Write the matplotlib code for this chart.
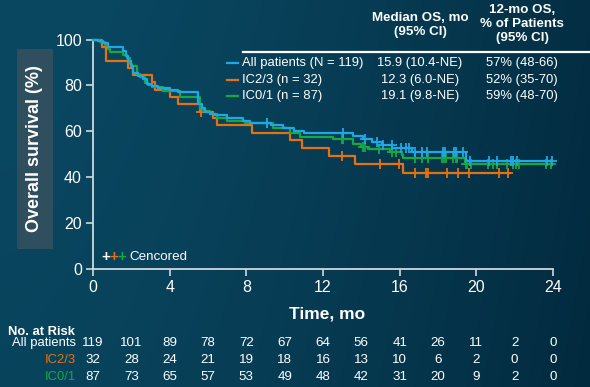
import numpy as np
import matplotlib
matplotlib.use("Agg")
import matplotlib.pyplot as plt
from matplotlib.lines import Line2D
from matplotlib.patches import Rectangle
from matplotlib.transforms import blended_transform_factory

plt.rcParams['font.family'] = ['Liberation Sans', 'DejaVu Sans']

# ---------------- data ----------------
all_t = [0, 0.28, 0.54, 0.8, 1.58, 1.72, 1.84, 1.97, 2.1, 2.36, 2.62, 2.8, 3.06, 3.4, 4.0, 4.45,
         5.5, 5.67, 5.84, 6.1, 6.36, 6.97, 7.84, 8.19, 9.3, 9.9, 10.5, 11.0, 13.58, 14.1, 14.55,
         15.07, 15.6, 16.64, 19.44]
all_s = [100, 99.2, 98.3, 96.6, 95.0, 92.8, 90.6, 88.4, 85.5, 84.1, 82.6, 80.5, 79.7, 79.0, 78.0, 77.1,
         71.8, 70.3, 68.4, 67.6, 67.2, 66.0, 64.5, 63.8, 62.6, 61.5, 60.3, 59.1, 58.1, 56.6, 55.5,
         54.0, 52.6, 50.8, 47.2]
all_end = 23.95
all_cens = [9.1, 13.06, 14.19, 14.8, 15.14, 15.58, 16.07, 16.33, 16.48, 16.8, 17.15, 17.41, 18.24,
            18.36, 18.83, 18.92, 19.32, 19.67, 20.66, 21.06, 21.79, 21.93, 22.1, 23.67, 23.95]

hi_t = [0, 0.45, 0.68, 1.84, 2.1, 3.06, 3.23, 4.02, 4.45, 5.58, 6.28, 6.45, 8.28, 10.28, 10.9,
        12.3, 13.67, 16.15]
hi_s = [100, 96.9, 90.6, 87.5, 84.4, 81.3, 78.1, 75.0, 71.9, 68.5, 65.6, 62.6, 59.1, 56.2, 52.6,
        49.4, 45.8, 41.7]
hi_end = 21.75
hi_cens = [5.65, 12.97, 15.0, 15.96, 16.8, 17.4, 17.5, 18.45, 19.06, 19.6, 21.2, 21.67]

lo_t = [0, 0.37, 0.63, 0.8, 0.9, 1.58, 1.75, 1.93, 2.02, 2.27, 2.45, 2.71, 2.88, 3.06, 3.67, 4.54,
        5.58, 5.75, 6.1, 6.45, 6.97, 7.93, 9.4, 10.28, 10.8, 12.5, 13.58, 14.0, 14.36, 15.5, 16.1,
        16.2, 19.4]
lo_s = [100, 98.9, 97.7, 95.7, 94.5, 93.3, 92.0, 89.5, 88.4, 84.8, 83.8, 81.2, 80.0, 79.4, 77.6, 75.0,
        70.3, 68.8, 67.4, 66.0, 64.5, 63.5, 61.5, 59.4, 57.6, 56.5, 54.5, 53.3, 52.3, 50.8, 49.7,
        48.5, 45.6]
lo_end = 23.95
lo_cens = [9.06, 12.97, 13.06, 14.1, 14.19, 14.93, 15.58, 15.79, 16.8, 17.15, 17.46, 18.19, 18.31,
           18.41, 18.8, 18.94, 19.0, 19.44, 19.53, 19.7, 20.62, 20.85, 21.06, 21.61, 21.89, 22.07,
           22.24, 23.62, 23.88]

group_labels = ["All patients (N = 119)", "IC2/3 (n = 32)", "IC0/1 (n = 87)"]
median_os = ["15.9 (10.4-NE)", "12.3 (6.0-NE)", "19.1 (9.8-NE)"]
os12 = ["57% (48-66)", "52% (35-70)", "59% (48-70)"]

risk_times = [0, 2, 4, 6, 8, 10, 12, 14, 16, 18, 20, 22, 24]
risk_all = [119, 101, 89, 78, 72, 67, 64, 56, 41, 26, 11, 2, 0]
risk_hi = [32, 28, 24, 21, 19, 18, 16, 13, 10, 6, 2, 0, 0]
risk_lo = [87, 73, 65, 57, 53, 49, 48, 42, 31, 20, 9, 2, 0]
risk_labels = ["All patients", "IC2/3", "IC0/1"]

x_ticks = [0, 4, 8, 12, 16, 20, 24]
y_ticks = [0, 20, 40, 60, 80, 100]

BLUE = '#1fa8e6'
ORANGE = '#e8710f'
GREEN = '#17a844'
AX = '#cfd8dd'

W, H = 590, 387
fig = plt.figure(figsize=(W / 100, H / 100), dpi=100)

# background gradient
bg = fig.add_axes([0, 0, 1, 1], zorder=-10)
xs = np.linspace(0, 1, 300)
ys = np.linspace(0, 1, 200)
X, Y = np.meshgrid(xs, ys)
f = np.clip(X, 0, 1) ** 1.6 * 0.85 + Y * 0.15
c0 = np.array([10, 72, 98]) / 255.0
c1 = np.array([2, 42, 62]) / 255.0
img = c0[None, None, :] * (1 - f[..., None]) + c1[None, None, :] * f[..., None]
bg.imshow(img, aspect='auto', extent=[0, 1, 0, 1], origin='upper')
bg.set_axis_off()

def fx(px):
    return px / W

def fy(py):
    return 1 - py / H

ax = fig.add_axes([fx(93), fy(269), fx(553) - fx(93), fy(39.5) - fy(269)])
ax.set_facecolor('none')
ax.set_xlim(0, 24)
ax.set_ylim(0, 100)
for side in ['top', 'right']:
    ax.spines[side].set_visible(False)
for side in ['left', 'bottom']:
    ax.spines[side].set_color(AX)
    ax.spines[side].set_linewidth(1.3)
ax.set_xticks(x_ticks)
ax.set_yticks(y_ticks)
ax.tick_params(colors=AX, labelcolor='white', labelsize=11.5, length=5, width=1.2, pad=3)

def km(ts, ss, end, cens, color, z):
    tt = list(ts) + [end]
    sv = list(ss) + [ss[-1]]
    ax.step(tt, sv, where='post', color=color, lw=1.6, zorder=z, clip_on=False)
    ta = np.array(ts)
    cy = [ss[np.searchsorted(ta, c, side='right') - 1] for c in cens]
    ax.plot(cens, cy, ls='none', marker='+', ms=6.5, mew=1.3, color=color, zorder=z, clip_on=False)

km(hi_t, hi_s, hi_end, hi_cens, ORANGE, 3)
km(lo_t, lo_s, lo_end, lo_cens, GREEN, 4)
km(all_t, all_s, all_end, all_cens, BLUE, 5)

# y label with box
fig.add_artist(Rectangle((fx(17), fy(249)), fx(53) - fx(17), fy(49) - fy(249),
                         transform=fig.transFigure, facecolor='#2f4f5f', edgecolor='none', zorder=-5))
fig.text(fx(35), fy(149), "Overall survival (%)", rotation=90, ha='center', va='center',
         color='white', fontsize=13, fontweight='bold')

fig.text(fx(327), fy(314), "Time, mo", ha='center', va='center', color='white',
         fontsize=12.5, fontweight='bold')

# top table
fig.text(fx(420), fy(25), "Median OS, mo\n(95% CI)", ha='center', va='center', color='white',
         fontsize=9.6, fontweight='bold', linespacing=1.2)
fig.text(fx(522), fy(24), "12-mo OS,\n% of Patients\n(95% CI)", ha='center', va='center',
         color='white', fontsize=9.6, fontweight='bold', linespacing=1.2)
fig.add_artist(Line2D([fx(243), fx(590)], [fy(52), fy(52)], transform=fig.transFigure,
                      color='white', lw=1.6))
row_y = [63, 80, 96]
cols = [BLUE, ORANGE, GREEN]
for i in range(3):
    fig.add_artist(Line2D([fx(227), fx(238)], [fy(row_y[i]), fy(row_y[i])], transform=fig.transFigure,
                          color=cols[i], lw=1.6))
    fig.text(fx(242), fy(row_y[i]), group_labels[i], ha='left', va='center', color='white', fontsize=9.4)
    fig.text(fx(420), fy(row_y[i]), median_os[i], ha='center', va='center', color='white', fontsize=9.4)
    fig.text(fx(522), fy(row_y[i]), os12[i], ha='center', va='center', color='white', fontsize=9.4)

# censored legend
for xp, c in zip([106, 114, 122], ['white', ORANGE, GREEN]):
    fig.text(fx(xp), fy(257), "+", ha='center', va='center', color=c, fontsize=11, fontweight='bold')
fig.text(fx(129), fy(257), "Cencored", ha='left', va='center', color='white', fontsize=9.6)

# number at risk
fig.text(fx(8), fy(332), "No. at Risk", ha='left', va='center', color='white', fontsize=9.4,
         fontweight='bold')
trans = blended_transform_factory(ax.transData, fig.transFigure)
risk_rows = [risk_all, risk_hi, risk_lo]
risk_y = [343, 360, 377]
label_cols = ['white', ORANGE, GREEN]
for i in range(3):
    fig.text(fx(76), fy(risk_y[i]), risk_labels[i], ha='right', va='center', color=label_cols[i],
             fontsize=9.4)
    for t, n in zip(risk_times, risk_rows[i]):
        ax.text(t, fy(risk_y[i]), str(n), transform=trans, ha='center', va='center',
                color='white', fontsize=9.6, clip_on=False)

fig.savefig("out.png", dpi=100)
